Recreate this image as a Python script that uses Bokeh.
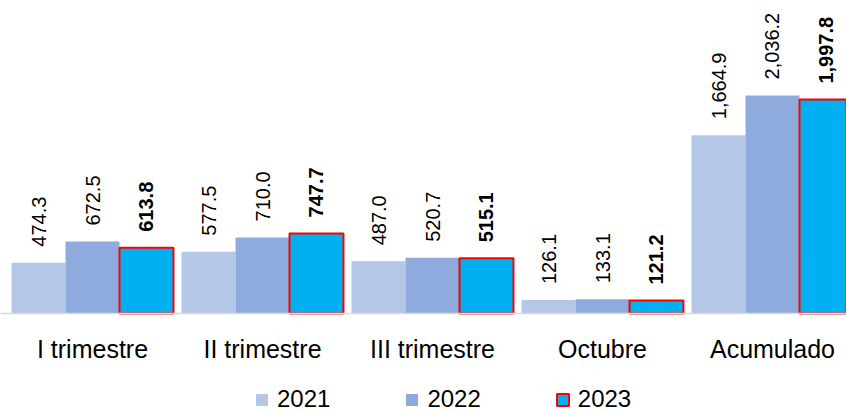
import numpy as np
from bokeh.plotting import figure
from bokeh.models import ColumnDataSource, Range1d, Legend, LegendItem, FixedTicker
from bokeh.core.properties import value
from bokeh.embed import file_html
from bokeh.resources import INLINE

categories = ["I trimestre", "II trimestre", "III trimestre", "Octubre", "Acumulado"]
years = ["2021", "2022", "2023"]
v2021 = [474.3, 577.5, 487.0, 126.1, 1664.9]
v2022 = [672.5, 710.0, 520.7, 133.1, 2036.2]
v2023 = [613.8, 747.7, 515.1, 121.2, 1997.8]

colors = ["#b4c7e7", "#8faadc", "#00b0f0"]
FONT = "Liberation Sans"

p = figure(width=846, height=411, output_backend="svg", toolbar_location=None,
           x_range=Range1d(-0.5412, 4.4353), y_range=Range1d(-915.3, 2923.4),
           y_axis_location=None, min_border_left=0, min_border_right=0,
           min_border_top=0, min_border_bottom=0)
p.grid.visible = False
p.outline_line_color = None
p.background_fill_color = "white"

bw = 0.3176
offsets = [-bw, 0.0, bw]
renderers = []
for i, (yr, vals) in enumerate(zip(years, [v2021, v2022, v2023])):
    x = np.arange(len(categories)) + offsets[i]
    src = ColumnDataSource(dict(x=x, top=vals, label=[f"{v:,.1f}" for v in vals]))
    if yr == "2023":
        r = p.vbar(x="x", top="top", width=bw, source=src, fill_color=colors[i],
                   line_color="#ff0000", line_width=2)
    else:
        r = p.vbar(x="x", top="top", width=bw, source=src, fill_color=colors[i],
                   line_color=None)
    renderers.append(r)
    p.text(x="x", y="top", text="label", source=src, angle=np.pi / 2,
           text_align="left", text_baseline="middle", y_offset=-16, x_offset=0,
           text_font=value(FONT), text_font_size="20px",
           text_font_style="bold" if yr == "2023" else "normal", text_color="#000000")

ax = p.xaxis[0]
ax.fixed_location = 0
ax.ticker = FixedTicker(ticks=list(range(len(categories))))
ax.major_label_overrides = {i: c for i, c in enumerate(categories)}
ax.major_tick_line_color = None
ax.minor_tick_line_color = None
ax.axis_line_color = "#d9d9d9"
ax.axis_line_width = 1.5
ax.major_label_text_font = FONT
ax.major_label_text_font_size = "25px"
ax.major_label_text_color = "#000000"
ax.major_label_standoff = 15

legend = Legend(items=[LegendItem(label=y, renderers=[r]) for y, r in zip(years, renderers)],
                orientation="horizontal", location=(254, -2),
                glyph_width=15, glyph_height=15, label_standoff=8, spacing=74,
                label_text_font=FONT, label_text_font_size="24px",
                label_text_color="#000000",
                border_line_color=None, background_fill_alpha=0,
                padding=0, margin=0)
p.add_layout(legend, "center")

open("out.html", "w").write(file_html(p, INLINE))
